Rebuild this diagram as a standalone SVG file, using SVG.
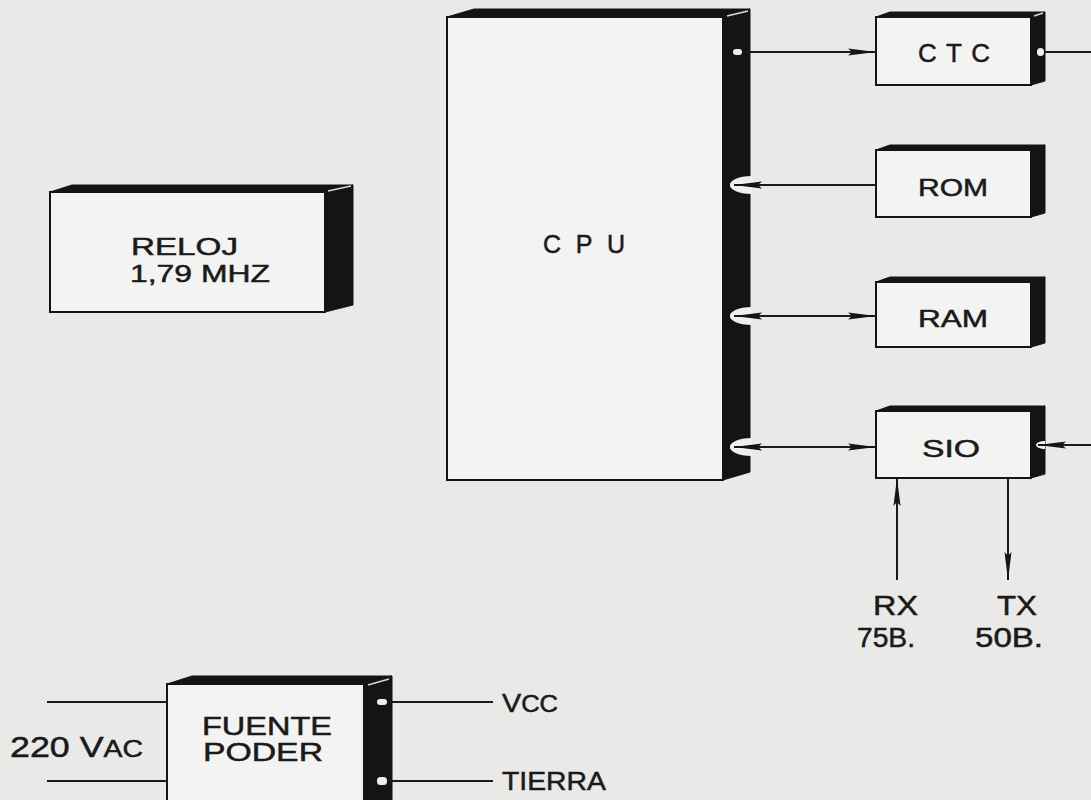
<svg xmlns="http://www.w3.org/2000/svg" width="1091" height="800" viewBox="0 0 1091 800">
<defs>
<style>
.face{fill:#f3f3f1;stroke:#141414;stroke-width:2}
.dark{fill:#141414;stroke:#141414;stroke-width:1}
.hl{stroke:#d8d8d8;stroke-width:1.5;fill:none}
.port{fill:#eeeeec;stroke:none}
.ln{stroke:#1a1a1a;stroke-width:2;fill:none}
.t{font-family:"Liberation Sans",Arial,sans-serif;fill:#1a1a1a;stroke:#1a1a1a;stroke-width:0.5}
</style>
<marker id="ah" viewBox="0 0 28 9" refX="28" refY="4.5" markerWidth="28" markerHeight="9" markerUnits="userSpaceOnUse" orient="auto-start-reverse">
<path d="M0,1 L28,4.5 L0,8 L4,4.5 Z" fill="#141414"/>
</marker>
</defs>
<rect width="1091" height="800" fill="#e9e9e7"/>

<g id="cpu">
<polygon class="dark" points="447,17 474,9 750,9 723,17"/>
<polygon class="dark" points="723,17 750,9 750,472 723,480"/>
<rect class="face" x="447" y="17" width="276" height="463"/>
<line class="hl" x1="727" y1="16" x2="748" y2="11"/>
<rect class="port" x="733" y="49" width="9" height="6" rx="3"/>
<path class="port" d="M752,176 C738,176 729,181 730,185 C729,189 738,194 752,194 Z"/>
<path class="port" d="M752,307 C738,307 729,312 730,316 C729,320 738,325 752,325 Z"/>
<path class="port" d="M752,438 C738,438 729,443 730,447 C729,451 738,456 752,456 Z"/>
<text class="t" x="543" y="253" font-size="25" textLength="82" lengthAdjust="spacing">CPU</text>
</g>

<g id="ctc">
<polygon class="dark" points="876,17 890,12 1045,12 1031,17"/>
<polygon class="dark" points="1031,17 1045,12 1045,81 1031,85"/>
<rect class="face" x="876" y="17" width="155" height="68"/>
<line class="hl" x1="1034" y1="16" x2="1043" y2="13"/>
<rect class="port" x="1037" y="48" width="7" height="8" rx="3.5"/>
<text class="t" x="918" y="62" font-size="26" textLength="72" lengthAdjust="spacing">CTC</text>
</g>

<g id="rom">
<polygon class="dark" points="876,150 890,145 1045,145 1031,150"/>
<polygon class="dark" points="1031,150 1045,145 1045,213 1031,217"/>
<rect class="face" x="876" y="150" width="155" height="67"/>
<text class="t" x="918" y="196" font-size="24" textLength="70" lengthAdjust="spacingAndGlyphs">ROM</text>
</g>

<g id="ram">
<polygon class="dark" points="876,282 890,277 1045,277 1031,282"/>
<polygon class="dark" points="1031,282 1045,277 1045,343 1031,347"/>
<rect class="face" x="876" y="282" width="155" height="65"/>
<text class="t" x="918" y="327" font-size="24" textLength="70" lengthAdjust="spacingAndGlyphs">RAM</text>
</g>

<g id="sio">
<polygon class="dark" points="876,411 890,406 1045,406 1031,411"/>
<polygon class="dark" points="1031,411 1045,406 1045,474 1031,478"/>
<rect class="face" x="876" y="411" width="155" height="67"/>
<path class="port" d="M1045,441 C1040,441 1036,443 1036,445 C1036,447 1040,449 1045,449 Z"/>
<text class="t" x="922" y="457" font-size="24" textLength="58" lengthAdjust="spacingAndGlyphs">SIO</text>
</g>

<g id="reloj">
<polygon class="dark" points="50,192 72,185 353,185 325,192"/>
<polygon class="dark" points="325,192 353,185 353,305 325,312"/>
<rect class="face" x="50" y="192" width="275" height="120"/>
<line class="hl" x1="328" y1="191" x2="351" y2="186"/>
<text class="t" x="131" y="255" font-size="24" textLength="107" lengthAdjust="spacingAndGlyphs">RELOJ</text>
<text class="t" x="130" y="282" font-size="24" textLength="140" lengthAdjust="spacingAndGlyphs">1,79 MHZ</text>
</g>

<g id="fuente">
<polygon class="dark" points="167,684 192,676 392,676 364,684"/>
<polygon class="dark" points="364,684 392,676 392,800 364,800"/>
<rect class="face" x="167" y="684" width="197" height="130"/>
<line class="hl" x1="368" y1="685" x2="389" y2="679"/>
<rect class="port" x="377" y="699" width="10" height="6" rx="3"/>
<rect class="port" x="377" y="777" width="10" height="8" rx="3.5"/>
<text class="t" x="202" y="735" font-size="25" textLength="130" lengthAdjust="spacingAndGlyphs">FUENTE</text>
<text class="t" x="203" y="761" font-size="25" textLength="120" lengthAdjust="spacingAndGlyphs">PODER</text>
</g>

<g id="connectors">
<line class="ln" x1="742" y1="52" x2="876" y2="52" marker-end="url(#ah)"/>
<line class="ln" x1="1044" y1="52" x2="1091" y2="52"/>
<line class="ln" x1="876" y1="185" x2="734" y2="185" marker-end="url(#ah)"/>
<line class="ln" x1="734" y1="316" x2="876" y2="316" marker-start="url(#ah)" marker-end="url(#ah)"/>
<line class="ln" x1="734" y1="447" x2="876" y2="447" marker-start="url(#ah)" marker-end="url(#ah)"/>
<line class="ln" x1="1091" y1="445" x2="1038" y2="445" marker-end="url(#ah)"/>
<line class="ln" x1="897" y1="580" x2="897" y2="478" marker-end="url(#ah)"/>
<line class="ln" x1="1008" y1="478" x2="1008" y2="580" marker-end="url(#ah)"/>
<line class="ln" x1="47" y1="702" x2="167" y2="702"/>
<line class="ln" x1="47" y1="781" x2="167" y2="781"/>
<line class="ln" x1="387" y1="702" x2="493" y2="702"/>
<line class="ln" x1="387" y1="781" x2="493" y2="781"/>
</g>

<g id="labels">
<text class="t" x="873" y="615" font-size="27" textLength="45" lengthAdjust="spacingAndGlyphs">RX</text>
<text class="t" x="857" y="647" font-size="27" textLength="58" lengthAdjust="spacingAndGlyphs">75B.</text>
<text class="t" x="997" y="615" font-size="27" textLength="40" lengthAdjust="spacingAndGlyphs">TX</text>
<text class="t" x="975" y="647" font-size="27" textLength="68" lengthAdjust="spacingAndGlyphs">50B.</text>
<text class="t" x="10" y="757" font-size="29" textLength="133" lengthAdjust="spacingAndGlyphs">220 V<tspan font-size="23">AC</tspan></text>
<text class="t" x="502" y="712" font-size="26" textLength="56" lengthAdjust="spacingAndGlyphs">V<tspan font-size="23">CC</tspan></text>
<text class="t" x="502" y="790" font-size="26" textLength="104" lengthAdjust="spacingAndGlyphs">TIERRA</text>
</g>
</svg>
